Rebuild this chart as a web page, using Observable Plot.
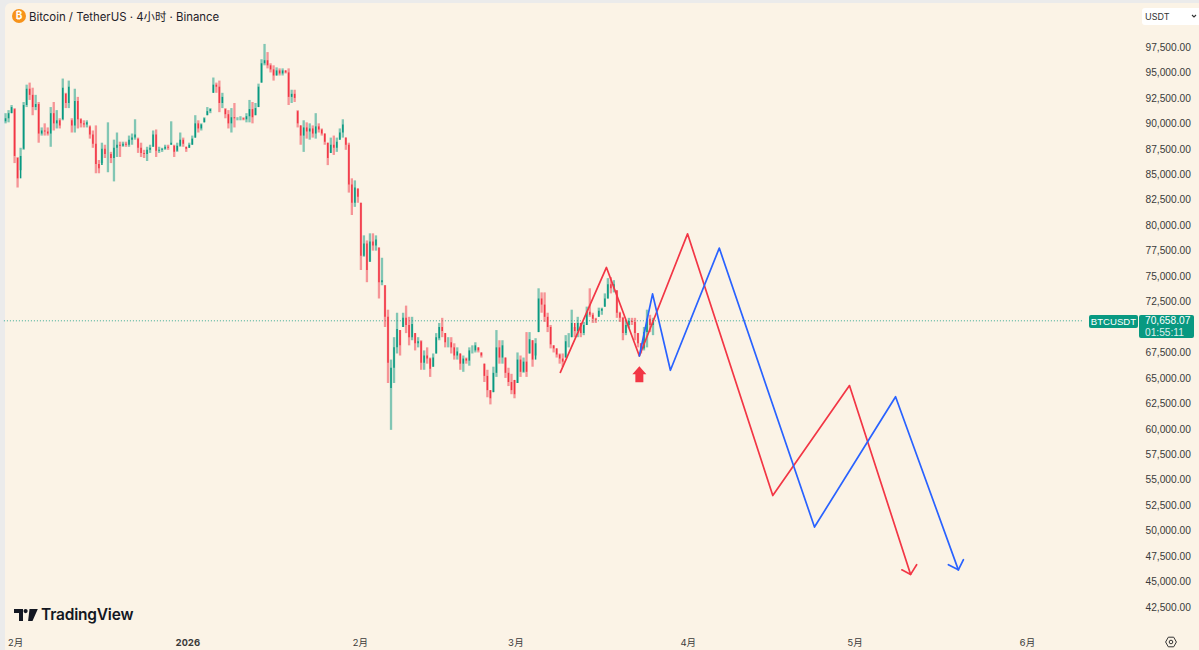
<!DOCTYPE html>
<html><head><meta charset="utf-8">
<script src="https://cdn.jsdelivr.net/npm/d3@7"></script>
<script src="https://cdn.jsdelivr.net/npm/@observablehq/plot@0.6"></script>
<style>
html,body{margin:0;padding:0;background:#ebebeb;width:1199px;height:650px;overflow:hidden;font-family:Inter,"Noto Sans CJK SC",sans-serif}
#panel{position:absolute;left:5px;top:3px;width:1194px;height:647px;background:#fbf3e6;border-radius:6px 0 0 0}
#chart{position:absolute;left:0;top:0}
.o{position:absolute;white-space:nowrap}
</style></head><body>
<div id="panel"></div>
<div id="chart"></div>
<svg class="o" style="left:11px;top:8px" width="16" height="16" viewBox="0 0 16 16"><circle cx="8" cy="8" r="7" fill="#f7931a"/><text x="8" y="11.4" text-anchor="middle" font-size="10" font-weight="700" fill="#fff" font-family="Inter">₿</text></svg>
<div class="o" style="left:29px;top:10px;font-size:11.4px;line-height:15px;color:#1f2229">Bitcoin / TetherUS · 4小时 · Binance</div>
<div class="o" style="left:1142px;top:8px;width:57px;height:17px;background:#fff;border-radius:3px 0 0 3px"></div>
<div class="o" style="left:1145px;top:10px;font-size:9px;line-height:13px;color:#333">USDT</div>
<svg class="o" style="left:1191px;top:14px" width="6" height="5" viewBox="0 0 6 5"><path d="M1 1l2 2 2-2" fill="none" stroke="#333" stroke-width="1.1"/></svg>
<div class="o" style="left:1089px;top:315px;width:49px;height:13px;background:#089981;border-radius:2px;color:#fff;font-family:'Liberation Sans';font-size:9.6px;line-height:13px;text-align:center">BTCUSDT</div>
<div class="o" style="left:1139px;top:315px;width:55px;height:23px;background:#089981;border-radius:2px;color:#fff;font-family:'Liberation Sans';font-size:10.2px;line-height:11.5px"><div style="padding-left:6px">70,658.07<br><span style="opacity:.85">01:55:11</span></div></div>
<svg class="o" style="left:14px;top:608px" width="24" height="14" viewBox="0 0 24 14"><path d="M0 1h9v12H5V5H0zM15.5 1h8.3l-5.3 12h-4.4zM11.6 1a2.1 2.1 0 1 1 0 4.2 2.1 2.1 0 0 1 0-4.2z" fill="#131722"/></svg>
<div class="o" style="left:41px;top:605px;font-size:15.5px;line-height:20px;font-weight:600;color:#131722;letter-spacing:-.2px">TradingView</div>
<svg class="o" style="left:1165px;top:636px" width="12" height="12" viewBox="0 0 12 12"><path d="M3.3 1.2h5.4L11.4 6 8.7 10.8H3.3L.6 6z" fill="none" stroke="#333" stroke-width="1"/><circle cx="6" cy="6" r="1.8" fill="none" stroke="#333" stroke-width="1"/></svg>
<script>
// Candle values in thousands of USDT, one candle every 13 hours
const candleStart = "2025-11-29T05:00:00Z";
const candleStepHours = 13;
const highs = [
91.0,91.3,91.8,91.5,86.7,87.6,92.1,93.8,94.0,93.5,
92.8,92.1,89.6,90.0,89.6,91.6,92.1,91.3,90.5,94.4,
93.0,94.2,90.5,93.4,92.6,90.5,90.3,90.3,89.8,89.3,
89.8,86.4,88.1,87.9,90.1,87.2,88.4,89.1,88.2,88.2,
88.2,88.8,89.0,90.4,88.6,88.1,87.4,87.7,87.9,89.3,
89.4,87.7,87.6,87.9,87.9,90.2,87.9,88.1,89.1,88.6,
87.7,88.1,88.8,90.8,90.3,90.0,90.6,91.6,91.5,94.5,
94.0,94.2,93.0,91.5,91.3,91.5,92.0,90.6,90.7,90.6,
91.0,92.3,92.1,92.0,93.9,96.3,97.8,97.0,95.9,95.7,
95.5,95.4,95.4,95.2,95.4,93.3,93.3,91.3,89.8,90.3,
90.1,90.0,89.8,91.0,90.0,89.5,89.0,88.1,88.6,88.8,
88.6,89.5,90.4,88.6,88.1,84.6,84.4,83.6,82.2,79.0,
78.5,79.2,79.2,79.0,77.8,76.8,74.1,71.7,66.8,69.0,
71.4,69.7,71.4,72.1,71.0,71.0,69.4,69.0,68.7,
67.7,68.0,67.0,67.4,69.4,70.4,70.9,69.4,69.0,
69.0,68.4,68.0,67.4,67.2,67.0,68.0,68.2,68.5,68.0,
67.5,66.4,65.8,63.8,66.1,69.7,68.7,68.7,67.0,66.0,65.4,64.8,
67.5,67.2,67.0,69.5,69.5,68.7,68.9,73.8,73.4,73.4,
71.4,70.2,68.2,67.9,67.4,67.4,69.2,69.4,71.7,70.0,
71.0,70.4,70.5,72.0,73.8,71.4,70.9,71.9,71.9,73.3,
74.8,74.9,74.6,73.6,71.5,71.0,70.7,70.9,70.9,70.9,
69.4,68.4,70.0,71.7,71.2,70.9];
const lows = [
90.0,90.1,91.0,86.1,83.7,85.4,87.4,91.6,92.3,90.8,
91.3,88.1,88.8,88.8,88.8,87.7,89.3,89.5,89.5,90.3,
91.5,91.5,89.1,89.1,89.5,89.6,89.6,89.6,88.5,87.6,
85.1,85.1,86.1,86.6,85.2,86.1,84.3,86.7,86.7,87.7,
87.7,87.7,87.9,88.4,87.1,86.7,86.6,86.3,87.1,87.7,
86.7,87.1,87.2,87.4,87.4,87.9,86.7,87.2,87.7,87.7,
87.2,87.6,87.9,88.6,89.1,89.3,90.1,90.8,91.0,93.0,
93.0,91.1,91.5,90.5,89.5,89.1,89.6,90.3,90.3,90.3,
90.1,90.1,90.0,90.8,91.6,94.0,95.7,95.4,95.0,94.2,
94.7,94.7,94.7,94.9,91.8,92.0,92.1,89.6,87.9,87.2,
88.5,88.4,88.6,88.5,89.1,88.8,87.9,85.9,87.1,86.9,
87.2,88.4,88.6,87.4,83.2,81.0,81.8,82.2,75.6,76.9,
74.4,76.4,77.5,77.5,72.8,74.1,70.0,64.5,59.9,64.5,
67.4,67.2,70.0,69.4,68.2,68.7,67.7,68.0,65.8,
65.8,66.4,65.1,66.1,67.4,68.7,69.0,68.0,68.0,
67.4,66.8,66.8,65.8,65.6,66.4,66.2,67.4,67.5,67.5,
67.0,64.6,63.1,62.4,63.6,65.1,66.4,66.4,65.0,64.2,63.4,63.0,
64.5,65.1,65.5,65.1,67.4,66.1,67.2,69.5,71.4,70.5,
69.5,67.9,67.5,67.0,66.4,66.1,67.0,68.0,69.0,69.0,
69.0,69.0,69.2,70.2,71.0,70.4,70.4,71.0,71.2,72.0,
72.8,73.3,73.4,70.9,70.5,68.7,69.2,69.9,70.2,68.7,
68.0,67.4,67.7,68.0,69.5,69.2];
const opens = [
90.2,90.5,91.0,91.4,86.6,84.6,87.5,91.8,93.4,92.8,
91.6,91.9,89.0,89.3,89.2,89.0,91.0,90.0,90.3,90.4,
92.9,92.0,90.3,89.8,92.2,90.4,90.0,89.9,89.7,88.9,
88.0,86.0,85.9,87.5,87.0,87.0,86.6,87.6,87.9,87.8,
88.0,87.9,88.4,88.6,88.5,87.6,87.1,87.0,87.4,87.7,
88.9,87.3,87.4,87.5,87.7,87.9,87.8,87.3,87.8,88.4,
87.7,87.6,87.9,88.6,90.0,89.5,90.1,90.8,91.2,93.0,
93.8,93.6,92.0,91.4,90.9,90.0,90.6,90.5,90.5,90.5,
90.4,90.7,91.4,90.8,91.6,94.0,95.9,96.2,95.7,95.3,
94.7,95.2,94.9,95.2,95.0,92.6,92.9,91.2,89.8,88.8,
89.6,89.2,89.5,89.0,89.7,89.4,89.0,88.1,87.1,87.9,
87.6,88.4,89.1,88.6,87.9,84.0,82.2,83.6,82.2,77.0,
78.2,76.4,78.4,78.0,77.8,74.4,74.1,71.0,64.0,66.0,
68.0,69.7,70.0,70.9,70.2,69.0,69.4,68.4,68.6,
66.5,67.2,66.9,66.1,67.4,68.9,70.0,69.4,68.5,
68.5,68.0,67.2,67.4,66.4,66.9,66.7,67.7,67.7,68.0,
67.5,66.4,65.2,63.8,63.6,65.5,68.0,67.0,67.0,65.5,64.6,64.8,
64.5,66.8,65.6,66.6,67.4,68.7,66.8,69.5,72.8,72.2,
71.0,70.0,68.2,67.9,67.3,66.9,67.0,68.6,69.0,70.4,
69.6,70.4,69.4,70.2,71.5,71.2,70.8,71.0,71.6,72.0,
72.8,74.2,73.8,73.6,71.4,70.9,69.4,70.2,70.6,70.5,
69.4,68.4,67.9,69.5,70.8,70.2];
const closes = [
90.5,91.0,91.6,86.8,84.6,86.8,91.8,93.4,92.8,91.6,
91.9,89.0,89.3,89.2,89.0,91.0,90.0,90.3,89.8,93.5,
92.0,93.6,89.8,92.2,90.4,90.0,89.9,90.1,88.9,88.0,
86.0,85.6,87.5,87.0,87.0,86.6,87.6,87.9,87.8,88.0,
87.9,88.4,88.6,88.9,87.6,87.1,87.0,87.4,87.6,88.9,
87.3,87.4,87.5,87.7,87.6,88.1,87.2,87.8,88.4,88.0,
87.5,87.9,88.5,90.0,89.5,89.9,90.5,91.2,91.4,93.8,
93.6,92.0,92.6,90.9,90.0,90.6,90.5,90.5,90.5,90.4,
90.7,91.4,90.6,91.5,93.6,95.9,96.2,95.7,95.3,94.7,
95.2,94.9,95.2,95.0,92.6,92.9,92.5,90.0,88.8,89.6,
89.2,89.5,89.0,89.7,89.4,89.0,88.2,86.6,87.9,87.6,
88.2,89.1,89.9,87.9,84.0,82.2,83.7,82.8,77.0,78.2,
75.6,78.4,78.0,78.6,74.4,74.6,71.0,66.5,66.0,68.0,
69.8,68.2,70.9,70.2,69.0,70.3,68.4,68.6,66.5,
67.2,66.9,65.9,67.0,69.0,70.0,69.6,68.5,68.5,
68.0,67.2,67.6,66.4,66.9,66.7,67.7,67.7,68.2,67.7,
67.2,65.2,63.8,63.0,65.5,68.0,67.0,68.2,65.5,64.6,63.8,63.4,
66.8,65.6,66.6,65.6,68.8,66.8,68.4,72.8,72.2,71.0,
70.0,68.3,67.9,67.3,66.9,66.6,68.6,68.6,70.4,69.6,
70.4,69.4,70.2,71.5,71.2,70.8,70.7,71.6,71.8,72.8,
74.2,73.8,74.2,71.4,70.9,69.4,70.2,70.6,70.5,69.4,
68.4,67.9,69.5,70.8,70.2,70.66];

// Drawn forecast paths
const redDates = ["2026-03-09T00:00Z","2026-03-17T07:00Z","2026-03-23T05:00Z","2026-03-31T21:00Z","2026-04-16T05:00Z","2026-04-30T00:00Z","2026-05-11T00:00Z"];
const redPrices = [65.6,75.9,67.2,79.2,53.5,64.3,45.75];
const redHeadDates = ["2026-05-09T10:00Z","2026-05-11T00:00Z","2026-05-12T02:00Z"];
const redHeadPrices = [46.2,45.75,46.7];
const blueDates = ["2026-03-23T05:00Z","2026-03-25T14:00Z","2026-03-28T19:00Z","2026-04-06T14:00Z","2026-04-23T17:00Z","2026-05-08T07:00Z","2026-05-19T14:00Z"];
const bluePrices = [67.2,73.3,65.8,77.8,50.4,63.2,46.2];
const blueHeadDates = ["2026-05-17T19:00Z","2026-05-19T14:00Z","2026-05-20T12:00Z"];
const blueHeadPrices = [46.7,46.2,47.2];
const signalDate = "2026-03-23T05:00Z";
const signalPrice = 65.4;
const lastPrice = 70.658;

// Axes
const priceTicks = [97.5,95,92.5,90,87.5,85,82.5,80,77.5,75,72.5,67.5,65,62.5,60,57.5,55,52.5,50,47.5,45,42.5];
const monthDates = ["2025-12-01","2026-02-01","2026-03-01","2026-04-01","2026-05-01","2026-06-01"];
const monthLabels = ["2月","2月","3月","4月","5月","6月"];
const yearDates = ["2026-01-01"];
const yearLabels = ["2026"];

const UP = "#089981", DOWN = "#f23645";
const d = s => new Date(s);
const candles = closes.map((c,i)=>({
  date:new Date(d(candleStart).getTime()+i*candleStepHours*3600e3),
  open:opens[i],close:c,high:highs[i],low:lows[i],up:c>=opens[i]}));
const path = (ds,ps)=>ds.map((t,i)=>({date:d(t),price:ps[i]}));
const arrowSymbol = {draw(c){c.moveTo(0,-8);c.lineTo(7,0);c.lineTo(4,0);c.lineTo(4,8);c.lineTo(-4,8);c.lineTo(-4,0);c.lineTo(-7,0);c.closePath();}};
const label = (ds,ls)=>v=>ls[ds.findIndex(s=>+d(s)===+v)];
const lineStyle = {x:"date",y:"price",strokeWidth:1.7,curve:"linear"};
const axisFont = {fontSize:10.2,fill:"#3a3a3a"};

const plot = Plot.plot({
  width:1199,height:650,marginLeft:0,marginTop:0,marginRight:54,marginBottom:10,
  style:{background:"transparent",fontFamily:"Inter,'Noto Sans CJK SC',sans-serif"},
  x:{type:"utc",domain:[d("2025-11-28T07:12:00Z"),d("2026-07-01T23:00:00Z")],range:[0,1199]},
  y:{type:"linear",domain:[38.278,102.115],range:[650,0]},
  marks:[
    Plot.ruleY([lastPrice],{x1:d("2025-11-29T00:00Z"),x2:d("2026-06-11T00:00Z"),stroke:UP,strokeWidth:1,strokeDasharray:"1,2",strokeOpacity:.8}),
    Plot.ruleX(candles.filter(c=>c.up),{x:"date",y1:"low",y2:"high",stroke:UP,strokeWidth:2.3,strokeOpacity:.5}),
    Plot.ruleX(candles.filter(c=>!c.up),{x:"date",y1:"low",y2:"high",stroke:DOWN,strokeWidth:2.3,strokeOpacity:.5}),
    Plot.ruleX(candles.filter(c=>c.up),{x:"date",y1:"open",y2:"close",stroke:UP,strokeWidth:1.5}),
    Plot.ruleX(candles.filter(c=>!c.up),{x:"date",y1:"open",y2:"close",stroke:DOWN,strokeWidth:1.5}),
    Plot.line(path(redDates,redPrices),{...lineStyle,stroke:"#f23645"}),
    Plot.line(path(redHeadDates,redHeadPrices),{...lineStyle,stroke:"#f23645"}),
    Plot.line(path(blueDates,bluePrices),{...lineStyle,stroke:"#2962ff"}),
    Plot.line(path(blueHeadDates,blueHeadPrices),{...lineStyle,stroke:"#2962ff"}),
    Plot.dot([{date:d(signalDate),price:signalPrice}],{x:"date",y:"price",symbol:arrowSymbol,r:5,fill:"#f23645",stroke:"none"}),
    Plot.axisY(priceTicks,{anchor:"right",tickSize:0,tickPadding:0,label:null,...axisFont,fontFamily:"Liberation Sans",tickFormat:v=>d3.format(",.2f")(v*1000)}),
    Plot.axisX(monthDates.map(d),{anchor:"bottom",tickSize:0,tickPadding:2,label:null,lineAnchor:"middle",...axisFont,fontSize:9.5,tickFormat:label(monthDates,monthLabels)}),
    Plot.axisX(yearDates.map(d),{anchor:"bottom",tickSize:0,tickPadding:2,label:null,lineAnchor:"middle",...axisFont,fontSize:9.5,fontWeight:700,tickFormat:label(yearDates,yearLabels)})
  ]
});
document.getElementById("chart").appendChild(plot);
</script>
</body></html>
